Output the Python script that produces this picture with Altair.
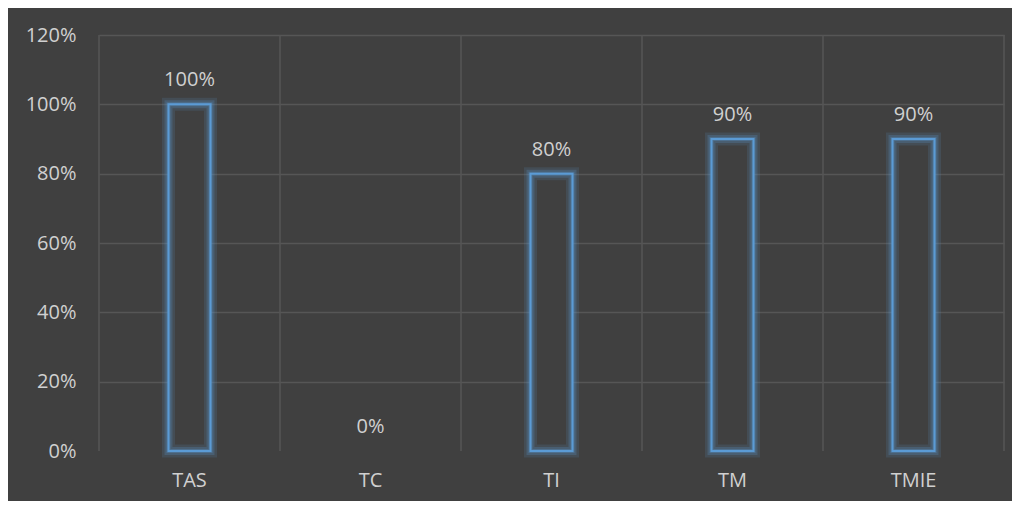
import altair as alt
import pandas as pd

categories = ["TAS", "TC", "TI", "TM", "TMIE"]
values = [1.0, 0.0, 0.8, 0.9, 0.9]
labels = ["100%", "0%", "80%", "90%", "90%"]
y_ticks = [0, 0.2, 0.4, 0.6, 0.8, 1.0, 1.2]

df = pd.DataFrame({"cat": categories, "val": values, "label": labels})

BG = "#404040"
GRID = "#565656"
TXT = "#d0d0d0"
BLUE = "#5B9BD5"
FONT = "Open Sans"
FS = 20

xscale = alt.Scale(domain=categories, paddingInner=0, paddingOuter=0)

x_axis = alt.Axis(title=None, labelAngle=0, domain=False, ticks=False, grid=False,
                  labelPadding=19, labelFontSize=FS, labelColor=TXT, labelFont=FONT)
y_axis = alt.Axis(title=None, format=".0%", values=y_ticks, domain=False, ticks=False,
                  gridColor=GRID, gridWidth=1.5,
                  gridOpacity=alt.condition("datum.value === 0", alt.value(0), alt.value(1)),
                  labelPadding=23, labelFontSize=FS, labelColor=TXT, labelFont=FONT)

base = alt.Chart(df)

vgrid = base.mark_rule(color=GRID, strokeWidth=1.5).encode(
    x=alt.X("cat:N", scale=xscale, bandPosition=0, axis=x_axis)
)
vgrid_end = base.transform_filter(alt.datum.cat == categories[-1]).mark_rule(
    color=GRID, strokeWidth=1.5).encode(
    x=alt.X("cat:N", scale=xscale, bandPosition=1)
)

y = alt.Y("val:Q", scale=alt.Scale(domain=[0, 1.2]), axis=y_axis)
bars_base = base.transform_filter(alt.datum.val > 0)

glow1 = bars_base.mark_bar(size=42, fill=BG, stroke=BLUE, strokeWidth=13, strokeOpacity=0.14).encode(
    x=alt.X("cat:N", scale=xscale), y=y)
glow2 = bars_base.mark_bar(size=42, fillOpacity=0, stroke=BLUE, strokeWidth=8, strokeOpacity=0.22).encode(
    x=alt.X("cat:N", scale=xscale), y=y)
glow3 = bars_base.mark_bar(size=42, fillOpacity=0, stroke=BLUE, strokeWidth=4, strokeOpacity=0.3).encode(
    x=alt.X("cat:N", scale=xscale), y=y)
bars = bars_base.mark_bar(size=42, fillOpacity=0, stroke=BLUE, strokeWidth=2).encode(
    x=alt.X("cat:N", scale=xscale), y=y)

text = base.mark_text(dy=-18, baseline="alphabetic", fontSize=FS, color=TXT, font=FONT).encode(
    x=alt.X("cat:N", scale=xscale), y=y, text="label:N")

chart = alt.layer(vgrid, vgrid_end, glow1, glow2, glow3, bars, text).properties(
    width=905, height=416,
    padding={"left": 91, "top": 27, "right": 8, "bottom": 50},
    autosize="none",
    background=BG,
).configure_view(stroke=None)

chart.save("out.html", embed_options={"renderer": "svg", "actions": False})
